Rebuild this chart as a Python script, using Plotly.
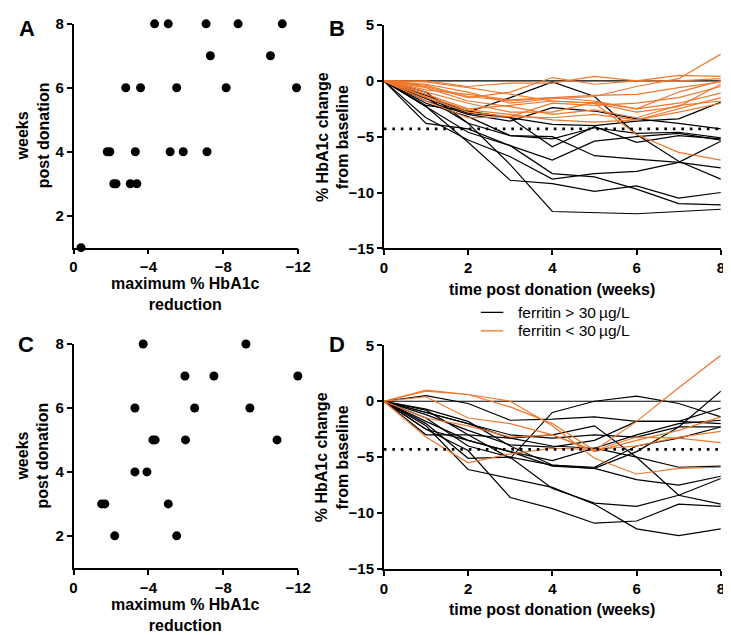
import plotly.graph_objects as go

W, H = 731, 635
FONT = "Liberation Sans, Arial, sans-serif"
ORANGE = "#F0782D"

# ---------------- data ----------------
a_reduction = [-0.40, -4.33, -5.06, -7.08, -8.79, -11.15, -7.31, -10.52, -2.79, -3.58, -5.51,
               -8.15, -11.91, -1.80, -1.94, -3.30, -5.16, -5.86, -7.13, -2.15, -2.27, -3.03, -3.38]
a_weeks = [1, 8, 8, 8, 8, 8, 7, 7, 6, 6, 6, 6, 6, 4, 4, 4, 4, 4, 4, 3, 3, 3, 3]

c_reduction = [-3.72, -9.21, -5.95, -7.50, -11.98, -3.28, -6.47, -9.42, -4.24, -4.36, -5.98,
               -10.87, -3.28, -3.92, -1.50, -1.67, -5.06, -2.20, -5.51]
c_weeks = [8, 8, 7, 7, 7, 6, 6, 6, 5, 5, 5, 5, 4, 4, 3, 3, 3, 2, 2]

weeks = [0, 1, 2, 3, 4, 5, 6, 7, 8]
threshold = -4.3

b_high = [
    [0, 0, 0, 0, 0, 0, 0, 0, 0],
    [0, -1.5, -3.8, -7.5, -11.7, -11.8, -11.9, -11.7, -11.5],
    [0, -2.3, -5.5, -8.9, -9.2, -9.9, -9.4, -10.5, -10.0],
    [0, -3.8, -4.3, -5.8, -8.3, -8.6, -9.7, -11.0, -11.1],
    [0, -3.3, -5.3, -6.8, -8.8, -8.3, -8.1, -7.3, -5.4],
    [0, -2.3, -4.6, -5.8, -7.1, -5.4, -5.0, -4.7, -5.3],
    [0, -1.0, -3.8, -4.9, -5.0, -6.7, -7.0, -7.3, -7.8],
    [0, -1.3, -2.8, -1.5, -0.1, -1.4, -4.8, -7.2, -8.8],
    [0, -1.6, -2.9, -3.3, -5.9, -4.1, -5.5, -4.9, -5.2],
    [0, -2.2, -2.7, -3.3, -3.9, -4.0, -3.6, -3.4, -1.9],
    [0, -1.8, -3.0, -3.6, -2.4, -2.7, -3.4, -3.8, -4.3],
    [0, -2.0, -3.2, -4.9, -5.2, -4.2, -4.7, -4.6, -5.1],
]
b_low = [
    [0, -0.1, -0.6, -1.2, -1.8, -2.0, -4.8, -6.4, -7.1],
    [0, -0.3, -1.0, -2.0, -1.6, -1.4, -0.5, 0.2, 2.4],
    [0, -0.5, -1.5, -1.0, 0.3, -0.3, 0.0, 0.5, 0.4],
    [0, 0.0, -0.5, -0.2, -0.2, 0.4, 0.0, 0.0, 0.2],
    [0, -0.8, -1.2, -1.7, -1.5, -1.3, -1.2, -0.6, -0.1],
    [0, -1.2, -2.5, -2.2, -1.8, -2.0, -2.8, -2.3, -0.3],
    [0, -1.0, -2.0, -2.8, -2.8, -1.9, -2.5, -2.0, -1.1],
    [0, -1.5, -2.8, -3.2, -3.3, -3.0, -3.5, -2.5, -1.5],
    [0, -0.6, -1.8, -2.3, -3.0, -2.6, -3.3, -2.2, -1.8],
    [0, -1.8, -3.3, -3.2, -2.0, -2.2, -2.0, -1.5, -0.5],
    [0, -0.4, -1.4, -1.8, -1.5, -1.8, -2.5, -1.0, 0.0],
    [0, -1.4, -2.6, -3.0, -3.5, -3.7, -3.5, -2.8, -2.0],
]

d_high = [
    [0, 0, 0, 0, 0, 0, 0, 0, 0],
    [0, -0.8, -3.0, -5.1, -1.0, 0.0, 0.45, -0.2, -1.4],
    [0, -1.0, -2.0, -3.3, -3.0, -2.2, -5.0, -8.4, -9.2],
    [0, -2.5, -3.5, -4.5, -5.8, -6.0, -4.5, -2.3, 0.9],
    [0, 0.5, -0.2, -1.7, -1.6, -1.4, -1.8, -1.8, -0.6],
    [0, -1.0, -2.0, -3.0, -3.3, -3.0, -3.2, -2.3, -2.3],
    [0, -3.0, -3.0, -3.3, -4.0, -4.2, -3.0, -2.0, -1.7],
    [0, -2.0, -5.1, -5.0, -5.7, -6.0, -7.0, -7.5, -6.7],
    [0, -1.8, -3.5, -4.5, -5.3, -4.2, -5.0, -5.9, -5.8],
    [0, -1.5, -4.0, -5.0, -7.8, -9.1, -9.4, -8.4, -6.9],
    [0, -2.5, -4.4, -8.6, -9.6, -10.9, -10.7, -9.2, -9.4],
    [0, -2.2, -6.1, -6.9, -7.7, -9.2, -11.4, -12.0, -11.4],
    [0, -1.2, -2.6, -3.9, -4.1, -3.5, -1.8, -1.8, -2.0],
    [0, -0.7, -1.8, -4.0, -5.7, -5.9, -4.0, -3.3, -2.3],
]
d_low = [
    [0, 1.0, 0.6, -0.5, -2.0, -4.4, -1.8, 1.2, 4.1],
    [0, 0.9, 0.6, 0.0, -2.2, -5.1, -6.5, -6.0, -5.9],
    [0, -3.2, -5.5, -4.7, -4.2, -4.3, -4.0, -3.2, -2.7],
    [0, 0.4, -1.5, -2.0, -3.0, -4.4, -3.2, -3.3, -3.7],
    [0, -1.5, -2.2, -3.2, -3.0, -4.5, -3.5, -2.6, -1.4],
]

scatter_xticks = [0, -4, -8, -12]
scatter_yticks = [2, 4, 6, 8]
line_xticks = [0, 2, 4, 6, 8]
line_yticks = [5, 0, -5, -10, -15]
legend_labels = ["ferritin > 30\u2009µg/L", "ferritin < 30\u2009µg/L"]

# ---------------- figure ----------------
fig = go.Figure()

fig.add_trace(go.Scatter(x=a_reduction, y=a_weeks, mode="markers", xaxis="x", yaxis="y",
                         marker=dict(color="black", size=9), cliponaxis=False, showlegend=False))
fig.add_trace(go.Scatter(x=c_reduction, y=c_weeks, mode="markers", xaxis="x3", yaxis="y3",
                         marker=dict(color="black", size=9), cliponaxis=False, showlegend=False))

for xa, ya, hi, lo in [("x2", "y2", b_high, b_low), ("x4", "y4", d_high, d_low)]:
    for s in hi:
        fig.add_trace(go.Scatter(x=weeks, y=s, mode="lines", xaxis=xa, yaxis=ya,
                                 line=dict(color="black", width=1.2), showlegend=False, cliponaxis=False))
    for s in lo:
        fig.add_trace(go.Scatter(x=weeks, y=s, mode="lines", xaxis=xa, yaxis=ya,
                                 line=dict(color=ORANGE, width=1.2), showlegend=False, cliponaxis=False))
    fig.add_trace(go.Scatter(x=[weeks[0], weeks[-1]], y=[threshold, threshold], mode="lines",
                             xaxis=xa, yaxis=ya, line=dict(color="black", width=2.6, dash="2.6px,5.9px"),
                             showlegend=False))


def px_x(p):
    return p / W


def px_y(p):
    return 1 - p / H


tickfont = dict(family=FONT, size=15, color="black", weight="bold")
axis_common = dict(showline=True, linecolor="black", linewidth=1.6, ticks="outside", ticklen=5,
                   tickwidth=1.6, tickcolor="black", showgrid=False, zeroline=False,
                   tickfont=tickfont, fixedrange=True)

layout = dict(
    width=W, height=H, margin=dict(l=0, r=0, t=0, b=0),
    paper_bgcolor="white", plot_bgcolor="white", showlegend=False,
    font=dict(family=FONT, color="black"),
)

# A
layout["xaxis"] = dict(axis_common, domain=[px_x(63), px_x(293)], range=[0, -12],
                       tickvals=scatter_xticks, anchor="y")
layout["yaxis"] = dict(axis_common, domain=[px_y(237), px_y(7)], range=[1, 8],
                       tickvals=scatter_yticks, anchor="x")
# B
layout["xaxis2"] = dict(axis_common, domain=[px_x(380.7), px_x(725.7)], range=[0, 8],
                        tickvals=line_xticks, anchor="y2")
layout["yaxis2"] = dict(axis_common, domain=[px_y(237.7), px_y(8.3)], range=[-15, 5],
                        tickvals=line_yticks, anchor="x2")
# C
layout["xaxis3"] = dict(axis_common, domain=[px_x(63), px_x(293)], range=[0, -12],
                        tickvals=scatter_xticks, anchor="y3")
layout["yaxis3"] = dict(axis_common, domain=[px_y(566), px_y(336)], range=[1, 8],
                        tickvals=scatter_yticks, anchor="x3")
# D
layout["xaxis4"] = dict(axis_common, domain=[px_x(380.7), px_x(725.7)], range=[0, 8],
                        tickvals=line_xticks, anchor="y4")
layout["yaxis4"] = dict(axis_common, domain=[px_y(567.3), px_y(337.3)], range=[-15, 5],
                        tickvals=line_yticks, anchor="x4")

fig.update_layout(**layout)

title_font = dict(family=FONT, size=16, color="black", weight="bold")
label_font = dict(family=FONT, size=22, color="black", weight="bold")
ann = []


def text(x, y, s, font, angle=0, xanchor="center"):
    ann.append(dict(x=px_x(x), y=px_y(y), xref="paper", yref="paper", text=s, showarrow=False,
                    font=font, textangle=angle, xanchor=xanchor, yanchor="middle", align="center"))


# panel letters
text(15, 12, "A", label_font)
text(333, 12, "B", label_font)
text(14, 337, "C", label_font)
text(333, 336, "D", label_font)

# axis titles
for top in (0, 329):
    text(21, 122 + top, "weeks<br>post donation", title_font, angle=-90)
    text(178, 285 + top, "maximum % HbA1c<br>reduction", title_font)
    text(328, 123 + top, "% HbA1c change<br>from baseline", title_font, angle=-90)
    text(553, 280 + top, "time post donation (weeks)", title_font)

# legend
legend_font = dict(family=FONT, size=15.5, color="black")
shapes = []
for i, (lbl, col) in enumerate(zip(legend_labels, ["black", ORANGE])):
    yy = 303.5 + i * 19
    shapes.append(dict(type="line", xref="paper", yref="paper", x0=px_x(480), x1=px_x(503),
                       y0=px_y(yy), y1=px_y(yy), line=dict(color=col, width=1.3)))
    text(516, yy, lbl, legend_font, xanchor="left")

fig.update_layout(annotations=ann, shapes=shapes)
fig.write_html("out.html")
